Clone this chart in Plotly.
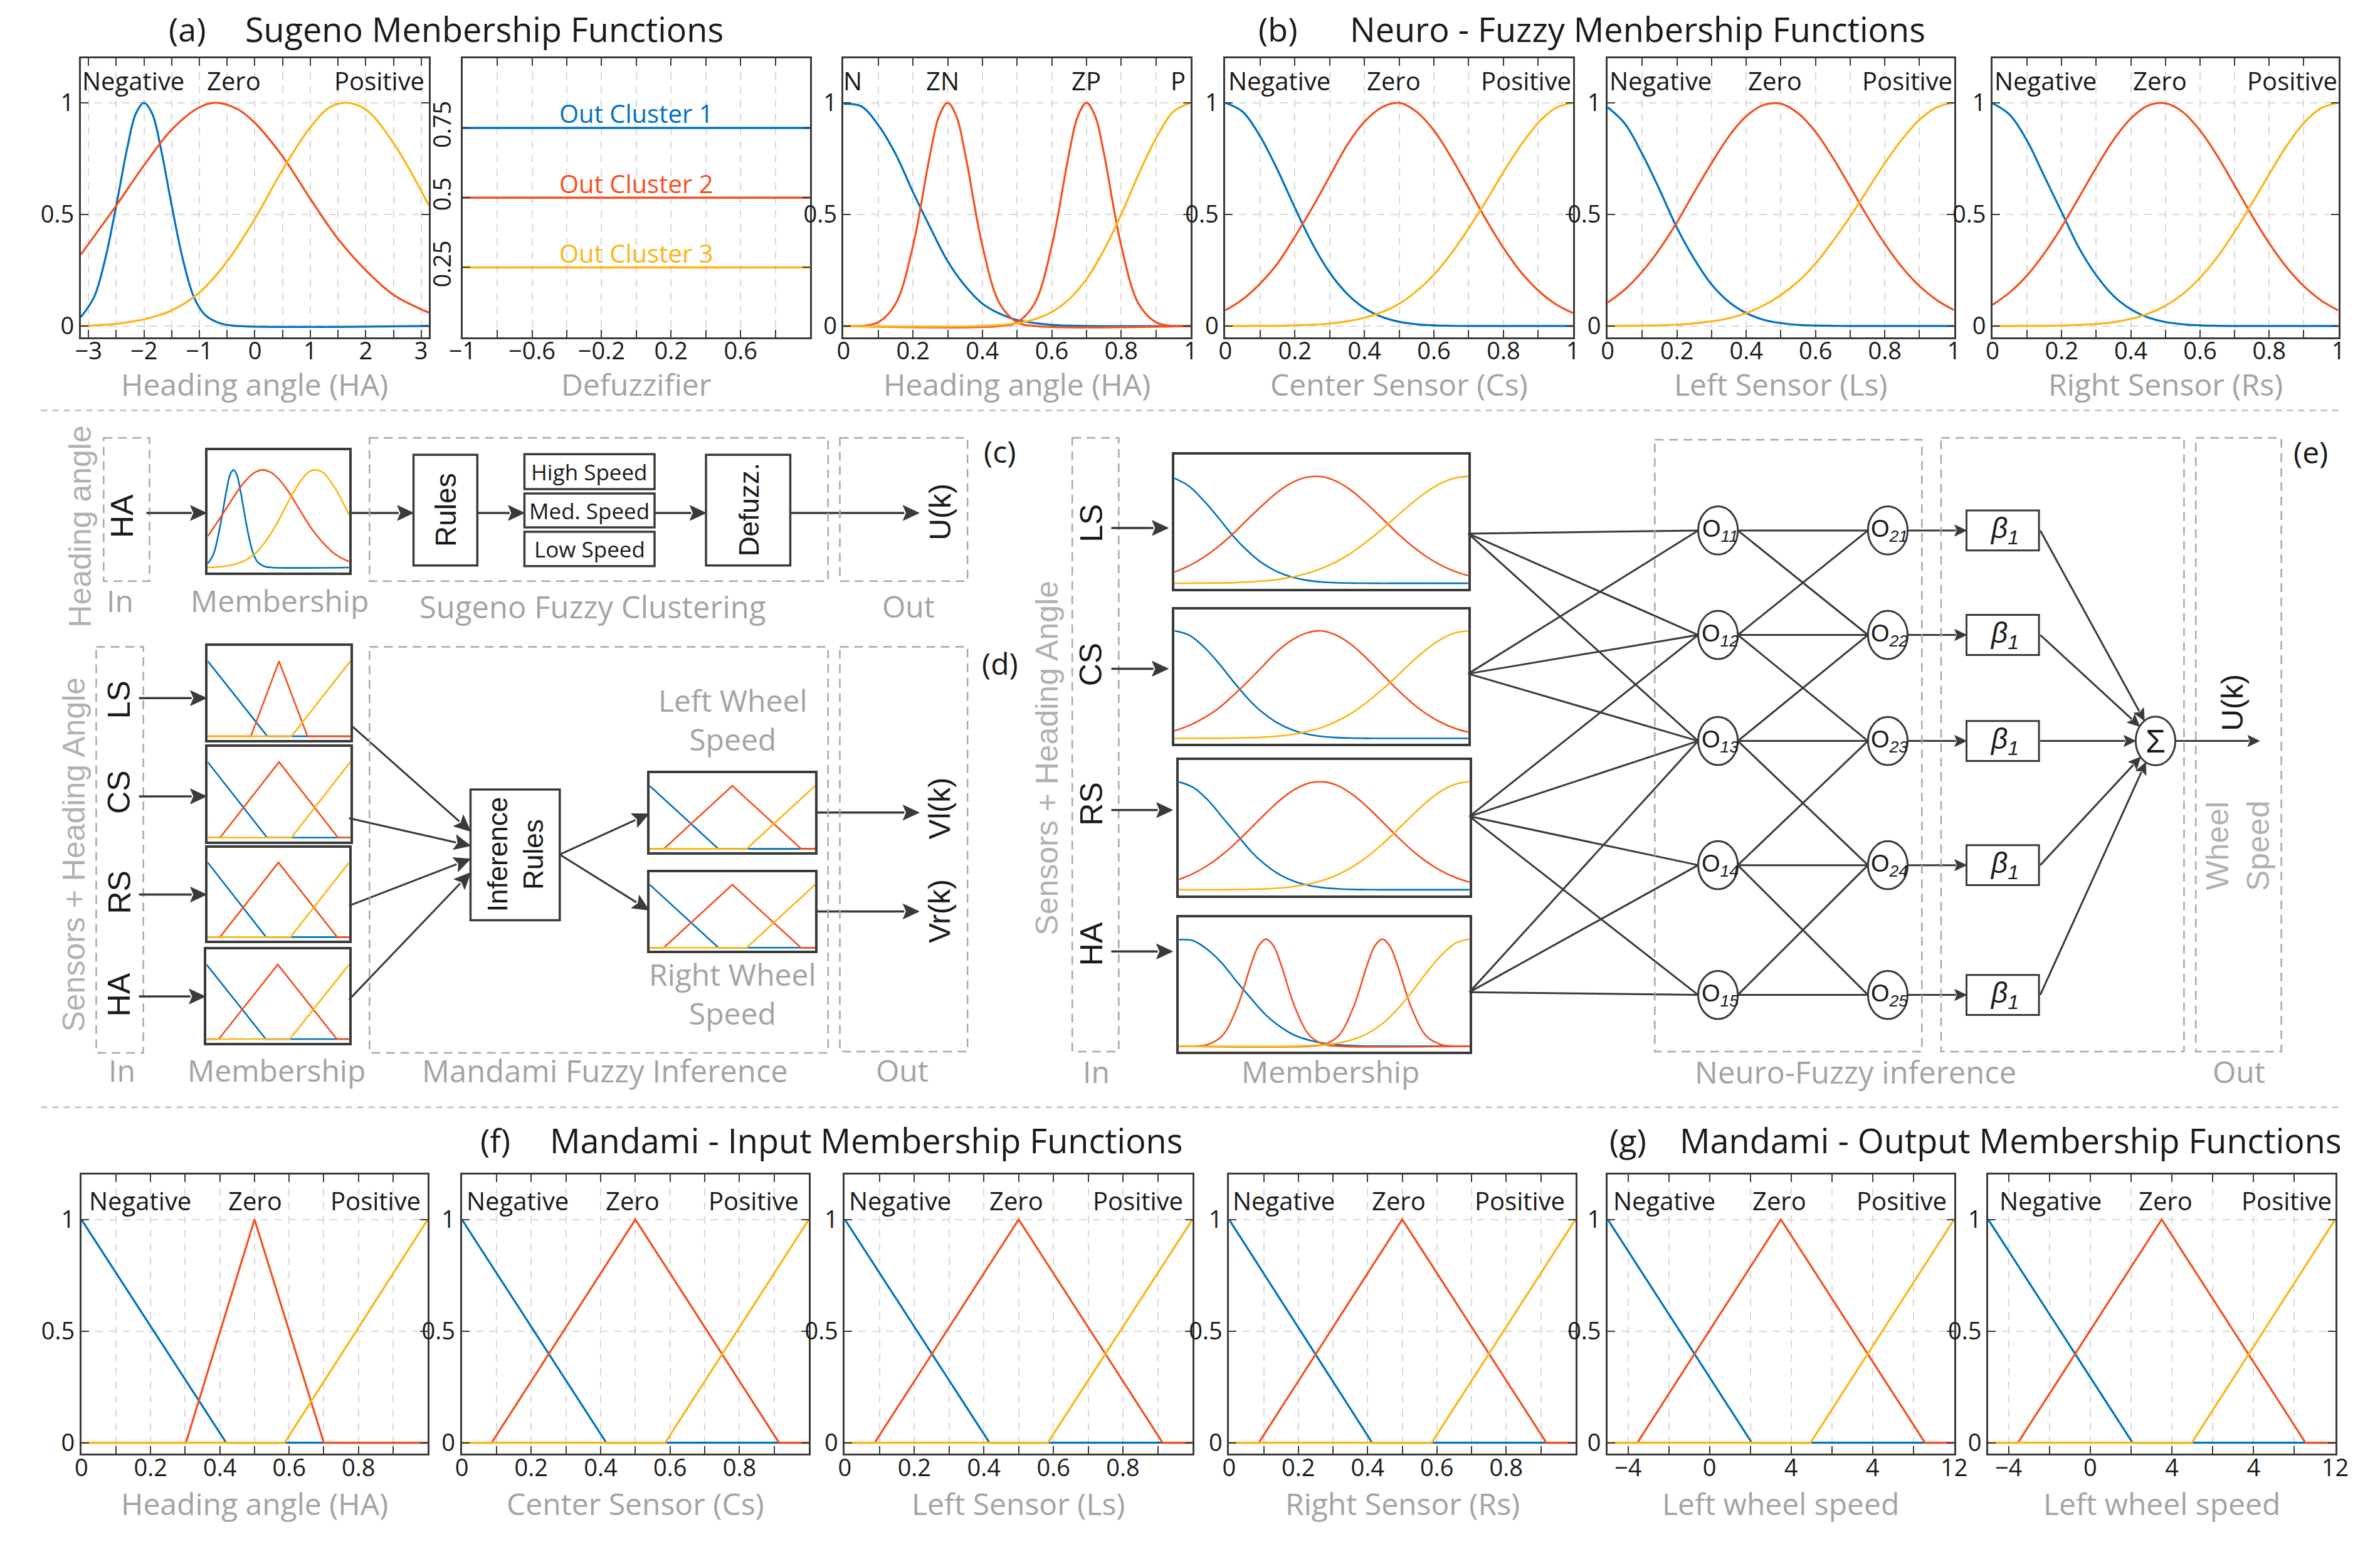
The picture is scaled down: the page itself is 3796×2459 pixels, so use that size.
import math
import plotly.graph_objects as go

W, H = 3796, 2459
BLUE, ORANGE, YELLOW = '#0072BD', '#F4511E', '#FDB515'
FRAME = '#3A3A3A'
INK = '#1A1A1A'
GRAY = '#A3A3A3'
PF = 'Open Sans, Noto Sans, sans-serif'
DF = 'Liberation Sans, Arial, sans-serif'

# ------------------------------------------------------------------ data
# (a) Sugeno input membership functions, heading angle in [-pi, pi]
SUG_NEG_X = [-3.14, -2.9, -2.7, -2.5, -2.3, -2.15, -2.0, -1.85, -1.7, -1.5, -1.3, -1.1, -0.9, -0.6, -0.3, 3.14]
SUG_NEG_Y = [0.04, 0.13, 0.30, 0.54, 0.80, 0.95, 1.0, 0.95, 0.80, 0.54, 0.30, 0.13, 0.05, 0.01, 0.0, 0.0]
SUG_ZERO_X = [-3.14, -2.5, -2.0, -1.5, -1.0, -0.7, -0.3, 0.0, 0.5, 1.0, 1.5, 2.0, 2.5, 3.14]
SUG_ZERO_Y = [0.32, 0.54, 0.72, 0.88, 0.98, 1.0, 0.97, 0.91, 0.76, 0.57, 0.39, 0.25, 0.14, 0.06]
SUG_POS_X = [-3.14, -2.5, -2.0, -1.5, -1.0, -0.5, 0.0, 0.5, 1.0, 1.35, 1.65, 2.0, 2.5, 3.14]
SUG_POS_Y = [0.0, 0.01, 0.03, 0.07, 0.15, 0.29, 0.48, 0.70, 0.89, 0.98, 1.0, 0.97, 0.82, 0.54]

# (a) Sugeno output clusters (defuzzifier)
DEFUZZ_X = [-1.0, 1.0]
CLUSTER_LEVELS = [0.75, 0.5, 0.25]
CLUSTER_NAMES = ['Out Cluster 1', 'Out Cluster 2', 'Out Cluster 3']

# (b) Neuro-fuzzy heading angle MFs (N, ZN, ZP, P)
NF_N_X = [0, 0.05, 0.1, 0.15, 0.2, 0.25, 0.3, 0.35, 0.4, 0.45, 0.5, 0.6, 0.7, 1.0]
NF_N_Y = [0.995, 0.985, 0.90, 0.77, 0.60, 0.44, 0.29, 0.18, 0.10, 0.055, 0.027, 0.005, 0.0, 0.0]
NF_ZN_X = [0, 0.05, 0.1, 0.15, 0.2, 0.25, 0.275, 0.3, 0.325, 0.35, 0.4, 0.45, 0.5, 0.55, 1.0]
NF_ZN_Y = [0.0, 0.0, 0.017, 0.10, 0.36, 0.775, 0.94, 1.0, 0.94, 0.775, 0.36, 0.10, 0.017, 0.0, 0.0]
NF_ZP_X = [0, 0.45, 0.5, 0.55, 0.6, 0.65, 0.675, 0.7, 0.725, 0.75, 0.8, 0.85, 0.9, 0.95, 1.0]
NF_ZP_Y = [0.0, 0.0, 0.017, 0.10, 0.36, 0.775, 0.94, 1.0, 0.94, 0.775, 0.36, 0.10, 0.017, 0.0, 0.0]
NF_P_X = [0, 0.4, 0.5, 0.55, 0.6, 0.65, 0.7, 0.75, 0.8, 0.85, 0.9, 0.95, 1.0]
NF_P_Y = [0.0, 0.0, 0.013, 0.03, 0.063, 0.12, 0.21, 0.34, 0.50, 0.68, 0.84, 0.96, 1.0]

# (b) Neuro-fuzzy sensor MFs, common sampling of the normalised sensor range
UNIT_X = [0, 0.05, 0.1, 0.15, 0.2, 0.25, 0.3, 0.35, 0.4, 0.45, 0.5,
          0.55, 0.6, 0.65, 0.7, 0.75, 0.8, 0.85, 0.9, 0.95, 1.0]
CS_NEG = [1.0, 0.96, 0.85, 0.70, 0.53, 0.37, 0.24, 0.145, 0.08, 0.041, 0.019,
          0.008, 0.003, 0.001, 0.0, 0.0, 0.0, 0.0, 0.0, 0.0, 0.0]
CS_ZERO = [0.07, 0.12, 0.19, 0.28, 0.40, 0.53, 0.67, 0.81, 0.915, 0.98, 1.0,
           0.96, 0.876, 0.755, 0.617, 0.477, 0.35, 0.242, 0.159, 0.098, 0.058]
CS_POS = [0.0, 0.0, 0.001, 0.001, 0.003, 0.006, 0.011, 0.021, 0.037, 0.062, 0.10,
          0.156, 0.23, 0.325, 0.438, 0.56, 0.69, 0.81, 0.91, 0.977, 1.0]
LS_NEG = [0.98, 0.906, 0.77, 0.61, 0.44, 0.30, 0.186, 0.108, 0.058, 0.028, 0.013,
          0.005, 0.002, 0.001, 0.0, 0.0, 0.0, 0.0, 0.0, 0.0, 0.0]
LS_ZERO = [0.105, 0.164, 0.244, 0.345, 0.465, 0.60, 0.73, 0.85, 0.94, 0.99, 0.996,
           0.953, 0.87, 0.754, 0.623, 0.49, 0.368, 0.263, 0.179, 0.116, 0.071]
LS_POS = [0.0, 0.001, 0.002, 0.003, 0.006, 0.012, 0.021, 0.035, 0.058, 0.092, 0.139,
          0.20, 0.28, 0.38, 0.49, 0.61, 0.73, 0.837, 0.924, 0.98, 1.0]
RS_NEG = [0.998, 0.946, 0.83, 0.67, 0.51, 0.35, 0.227, 0.135, 0.075, 0.038, 0.018,
          0.008, 0.003, 0.001, 0.0, 0.0, 0.0, 0.0, 0.0, 0.0, 0.0]
RS_ZERO = [0.095, 0.151, 0.227, 0.326, 0.444, 0.576, 0.71, 0.834, 0.93, 0.988, 0.998,
           0.959, 0.876, 0.762, 0.63, 0.496, 0.371, 0.264, 0.179, 0.115, 0.07]
RS_POS = [0.0, 0.0, 0.001, 0.001, 0.002, 0.005, 0.009, 0.017, 0.032, 0.055, 0.091,
          0.143, 0.216, 0.309, 0.422, 0.549, 0.68, 0.806, 0.909, 0.976, 1.0]

# (f) Mamdani input MFs (triangles)
F_HA_NEG_X, F_HA_NEG_Y = [0, 0.418, 1.0], [1, 0, 0]
F_HA_ZERO_X, F_HA_ZERO_Y = [0, 0.302, 0.5, 0.70, 1.0], [0, 0, 1, 0, 0]
F_HA_POS_X, F_HA_POS_Y = [0, 0.587, 1.0], [0, 0, 1]
F_CS_NEG_X, F_CS_NEG_Y = [0, 0.416, 1.0], [1, 0, 0]
F_CS_ZERO_X, F_CS_ZERO_Y = [0, 0.086, 0.5, 0.914, 1.0], [0, 0, 1, 0, 0]
F_CS_POS_X, F_CS_POS_Y = [0, 0.586, 1.0], [0, 0, 1]
F_LS_NEG_X, F_LS_NEG_Y = [0, 0.416, 1.0], [1, 0, 0]
F_LS_ZERO_X, F_LS_ZERO_Y = [0, 0.086, 0.5, 0.914, 1.0], [0, 0, 1, 0, 0]
F_LS_POS_X, F_LS_POS_Y = [0, 0.584, 1.0], [0, 0, 1]
F_RS_NEG_X, F_RS_NEG_Y = [0, 0.413, 1.0], [1, 0, 0]
F_RS_ZERO_X, F_RS_ZERO_Y = [0, 0.086, 0.5, 0.916, 1.0], [0, 0, 1, 0, 0]
F_RS_POS_X, F_RS_POS_Y = [0, 0.585, 1.0], [0, 0, 1]

# (g) Mamdani output MFs (wheel speed)
G1_NEG_X, G1_NEG_Y = [-5, 2.07, 12], [1, 0, 0]
G1_ZERO_X, G1_ZERO_Y = [-5, -3.54, 3.5, 10.57, 12], [0, 0, 1, 0, 0]
G1_POS_X, G1_POS_Y = [-5, 4.96, 12], [0, 0, 1]
G2_NEG_X, G2_NEG_Y = [-5, 2.07, 12], [1, 0, 0]
G2_ZERO_X, G2_ZERO_Y = [-5, -3.54, 3.5, 10.54, 12], [0, 0, 1, 0, 0]
G2_POS_X, G2_POS_Y = [-5, 4.98, 12], [0, 0, 1]

# tick labels (major = labelled, minor = unlabelled tick + grid)
UNIT_MAJOR_1 = [0, 0.2, 0.4, 0.6, 0.8, 1.0]
UNIT_TEXT_1 = ['0', '0.2', '0.4', '0.6', '0.8', '1']
UNIT_MAJOR_0 = [0, 0.2, 0.4, 0.6, 0.8]
UNIT_TEXT_0 = ['0', '0.2', '0.4', '0.6', '0.8']
UNIT_MINOR = [0.1, 0.3, 0.5, 0.7, 0.9, 1.0]
HA_MAJOR = [-3, -2, -1, 0, 1, 2, 3]
HA_TEXT = ['\u22123', '\u22122', '\u22121', '0', '1', '2', '3']
HA_MINOR = [-2.5, -1.5, -0.5, 0.5, 1.5, 2.5]
DEF_MAJOR = [-1, -0.6, -0.2, 0.2, 0.6]
DEF_TEXT = ['\u22121', '\u22120.6', '\u22120.2', '0.2', '0.6']
DEF_MINOR = [-0.8, -0.4, 0.0, 0.4, 0.8, 1.0]
WHEEL_MAJOR = [-4, 0, 4, 8, 12]
WHEEL_TEXT = ['\u22124', '0', '4', '4', '12']
WHEEL_MINOR = [-2, 2, 6, 10]
MF_NAMES = ['Negative', 'Zero', 'Positive']
NF_HA_NAMES = ['N', 'ZN', 'ZP', 'P']

# ------------------------------------------------------------------ helpers
fig = go.Figure()
layout = {}
annotations = []
shapes = []
counter = [1]


def new_id():
    counter[0] += 1
    return counter[0]


def dom(box):
    x0, y0, x1, y1 = box
    return [x0 / W, x1 / W], [1 - y1 / H, 1 - y0 / H]


GRID = dict(showgrid=True, gridcolor='#D9D9D9', griddash='12px,10px', gridwidth=2)
AX = dict(showline=True, mirror='ticks', linecolor=FRAME, linewidth=3,
          ticks='inside', ticklen=12, tickwidth=2, tickcolor=FRAME,
          zeroline=False, fixedrange=True,
          tickfont=dict(family=PF, size=38, color=INK), **GRID)


def main_axes(box, xr, xtv, xtt, xminor, yr=(-0.05, 1.2), ytv=(0, 0.5, 1), ytt=('0', '0.5', '1'), yangle=0):
    i = new_id()
    dx, dy = dom(box)
    minor = dict(tickvals=list(xminor), ticks='inside', ticklen=12, tickwidth=2, tickcolor=FRAME, **GRID)
    layout[f'xaxis{i}'] = dict(AX, domain=dx, range=list(xr), anchor=f'y{i}',
                               tickvals=list(xtv), ticktext=list(xtt), ticklabelstandoff=-13,
                               minor=minor)
    layout[f'yaxis{i}'] = dict(AX, domain=dy, range=list(yr), anchor=f'x{i}',
                               tickvals=list(ytv), ticktext=list(ytt), tickangle=yangle)
    return i


def mini_axes(box, xr, yr=(-0.05, 1.2)):
    i = new_id()
    dx, dy = dom(box)
    base = dict(showline=True, mirror=True, linecolor=FRAME, linewidth=3.5, ticks='',
                showticklabels=False, showgrid=False, zeroline=False, fixedrange=True)
    layout[f'xaxis{i}'] = dict(base, domain=dx, range=list(xr), anchor=f'y{i}')
    layout[f'yaxis{i}'] = dict(base, domain=dy, range=list(yr), anchor=f'x{i}')
    return i


def draw_set(i, curves, width=3.2):
    for xs, ys, color, spline in curves:
        fig.add_trace(go.Scatter(
            x=xs, y=ys, mode='lines',
            line=dict(color=color, width=width, shape='spline' if spline else 'linear', smoothing=1.0),
            xaxis=f'x{i}', yaxis=f'y{i}', showlegend=False, hoverinfo='skip'))


def text(x, y, s, size, color=INK, family=DF, angle=0, xref='x', yref='y'):
    annotations.append(dict(x=x, y=y, xref=xref, yref=yref, text=s, showarrow=False,
                            font=dict(family=family, size=size, color=color),
                            textangle=angle, xanchor='center', yanchor='middle'))


def seg(x0, y0, x1, y1, width=3, color=FRAME, dash=None):
    ln = dict(color=color, width=width)
    if dash:
        ln['dash'] = dash
    shapes.append(dict(type='line', xref='x', yref='y', x0=x0, y0=y0, x1=x1, y1=y1, line=ln))


def arrow(x0, y0, x1, y1, width=3.5, head=26, half=12):
    # shaft + filled triangular head (diagram decoration in pixel units)
    L = math.hypot(x1 - x0, y1 - y0)
    ux, uy = (x1 - x0) / L, (y1 - y0) / L
    bx, by = x1 - ux * head, y1 - uy * head
    seg(x0, y0, bx + ux * 2, by + uy * 2, width=width)
    px, py = -uy * half, ux * half
    nx, ny = x1 - ux * head * 0.8, y1 - uy * head * 0.8
    path = (f'M {x1:.1f},{y1:.1f} L {bx + px:.1f},{by + py:.1f} '
            f'L {nx:.1f},{ny:.1f} L {bx - px:.1f},{by - py:.1f} Z')
    shapes.append(dict(type='path', xref='x', yref='y', path=path,
                       fillcolor=FRAME, line=dict(color=FRAME, width=1)))


def rect(x0, y0, x1, y1, dashed=False, width=3.5):
    if dashed:
        ln = dict(color='#A8A8A8', width=2.5, dash='14px,9px')
    else:
        ln = dict(color=FRAME, width=width)
    shapes.append(dict(type='rect', xref='x', yref='y', x0=x0, y0=y0, x1=x1, y1=y1,
                       line=ln, fillcolor='rgba(0,0,0,0)'))


def ellipse(cx, cy, rx, ry):
    shapes.append(dict(type='circle', xref='x', yref='y', x0=cx - rx, y0=cy - ry, x1=cx + rx, y1=cy + ry,
                       line=dict(color=FRAME, width=3), fillcolor='white'))


def mf_labels(i, names, fracs, y=1.1):
    for n, f in zip(names, fracs):
        text(f, y, n, 40, family=PF, xref=f'x{i} domain', yref=f'y{i}')


# curve groups
SET_SUG = [(SUG_NEG_X, SUG_NEG_Y, BLUE, True), (SUG_ZERO_X, SUG_ZERO_Y, ORANGE, True),
           (SUG_POS_X, SUG_POS_Y, YELLOW, True)]
SET_NFHA = [(NF_N_X, NF_N_Y, BLUE, True), (NF_ZN_X, NF_ZN_Y, ORANGE, True),
            (NF_ZP_X, NF_ZP_Y, ORANGE, True), (NF_P_X, NF_P_Y, YELLOW, True)]
SET_CS = [(UNIT_X, CS_NEG, BLUE, True), (UNIT_X, CS_ZERO, ORANGE, True), (UNIT_X, CS_POS, YELLOW, True)]
SET_LS = [(UNIT_X, LS_NEG, BLUE, True), (UNIT_X, LS_ZERO, ORANGE, True), (UNIT_X, LS_POS, YELLOW, True)]
SET_RS = [(UNIT_X, RS_NEG, BLUE, True), (UNIT_X, RS_ZERO, ORANGE, True), (UNIT_X, RS_POS, YELLOW, True)]
SET_F_HA = [(F_HA_NEG_X, F_HA_NEG_Y, BLUE, False), (F_HA_ZERO_X, F_HA_ZERO_Y, ORANGE, False),
            (F_HA_POS_X, F_HA_POS_Y, YELLOW, False)]
SET_F_CS = [(F_CS_NEG_X, F_CS_NEG_Y, BLUE, False), (F_CS_ZERO_X, F_CS_ZERO_Y, ORANGE, False),
            (F_CS_POS_X, F_CS_POS_Y, YELLOW, False)]
SET_F_LS = [(F_LS_NEG_X, F_LS_NEG_Y, BLUE, False), (F_LS_ZERO_X, F_LS_ZERO_Y, ORANGE, False),
            (F_LS_POS_X, F_LS_POS_Y, YELLOW, False)]
SET_F_RS = [(F_RS_NEG_X, F_RS_NEG_Y, BLUE, False), (F_RS_ZERO_X, F_RS_ZERO_Y, ORANGE, False),
            (F_RS_POS_X, F_RS_POS_Y, YELLOW, False)]
SET_G1 = [(G1_NEG_X, G1_NEG_Y, BLUE, False), (G1_ZERO_X, G1_ZERO_Y, ORANGE, False),
          (G1_POS_X, G1_POS_Y, YELLOW, False)]
SET_G2 = [(G2_NEG_X, G2_NEG_Y, BLUE, False), (G2_ZERO_X, G2_ZERO_Y, ORANGE, False),
          (G2_POS_X, G2_POS_Y, YELLOW, False)]

# overlay axis in pixel units for the diagram
layout['xaxis'] = dict(domain=[0, 1], range=[0, W], visible=False, fixedrange=True)
layout['yaxis'] = dict(domain=[0, 1], range=[H, 0], visible=False, fixedrange=True)

# ------------------------------------------------------------------ row 1 (a), (b)
R1Y0, R1Y1 = 93, 539
r1 = [(108, 670), (724, 1285), (1339, 1899), (1955, 2516), (2572, 3131), (3193, 3751)]

i = main_axes((r1[0][0], R1Y0, r1[0][1], R1Y1), (-3.1416, 3.1416), HA_MAJOR, HA_TEXT, HA_MINOR)
draw_set(i, SET_SUG)
mf_labels(i, MF_NAMES, [0.151, 0.44, 0.857])

i = main_axes((r1[1][0], R1Y0, r1[1][1], R1Y1), (-1, 1), DEF_MAJOR, DEF_TEXT, DEF_MINOR,
              yr=(0, 1.0), ytv=(0.25, 0.5, 0.75), ytt=('0.25', '0.5', '0.75'), yangle=-90)
for lvl, name, col in zip(CLUSTER_LEVELS, CLUSTER_NAMES, [BLUE, ORANGE, YELLOW]):
    fig.add_trace(go.Scatter(x=DEFUZZ_X, y=[lvl, lvl], mode='lines', line=dict(color=col, width=3.5),
                             xaxis=f'x{i}', yaxis=f'y{i}', showlegend=False, hoverinfo='skip'))
    text(0.0, lvl + 0.052, name, 40, color=col, family=PF, xref=f'x{i}', yref=f'y{i}')

i = main_axes((r1[2][0], R1Y0, r1[2][1], R1Y1), (0, 1), UNIT_MAJOR_1, UNIT_TEXT_1, UNIT_MINOR)
draw_set(i, SET_NFHA)
mf_labels(i, NF_HA_NAMES, [0.027, 0.286, 0.70, 0.963])

for k, (st, fr) in enumerate([(SET_CS, [0.155, 0.484, 0.865]), (SET_LS, [0.152, 0.482, 0.865]),
                              (SET_RS, [0.154, 0.484, 0.867])]):
    x0, x1 = r1[3 + k]
    i = main_axes((x0, R1Y0, x1, R1Y1), (0, 1), UNIT_MAJOR_1, UNIT_TEXT_1, UNIT_MINOR)
    draw_set(i, st)
    mf_labels(i, MF_NAMES, fr)

R1_TITLES = ['Heading angle (HA)', 'Defuzzifier', 'Heading angle (HA)',
             'Center Sensor (Cs)', 'Left Sensor (Ls)', 'Right Sensor (Rs)']
for (x0, x1), t in zip(r1, R1_TITLES):
    text((x0 + x1) / 2, 614, t, 48, color=GRAY, family=PF)

text(280, 46, '(a)', 52, family=PF)
text(759, 46, 'Sugeno Menbership Functions', 54, family=PF)
text(2040, 46, '(b)', 52, family=PF)
text(2620, 46, 'Neuro - Fuzzy Menbership Functions', 54, family=PF)

# ------------------------------------------------------------------ row 3 (f), (g)
R3Y0, R3Y1 = 1878, 2324
r3 = [(109, 668), (723, 1283), (1341, 1902), (1961, 2520), (2572, 3131), (3186, 3746)]
r3_sets = [SET_F_HA, SET_F_CS, SET_F_LS, SET_F_RS]
r3_fr = [[0.169, 0.502, 0.85], [0.16, 0.493, 0.84], [0.158, 0.493, 0.843], [0.157, 0.49, 0.84]]
for k in range(4):
    x0, x1 = r3[k]
    i = main_axes((x0, R3Y0, x1, R3Y1), (0, 1), UNIT_MAJOR_0, UNIT_TEXT_0, UNIT_MINOR)
    draw_set(i, r3_sets[k])
    mf_labels(i, MF_NAMES, r3_fr[k], y=1.085)
for k, (st, fr) in enumerate([(SET_G1, [0.163, 0.496, 0.848]), (SET_G2, [0.18, 0.512, 0.86])]):
    x0, x1 = r3[4 + k]
    i = main_axes((x0, R3Y0, x1, R3Y1), (-5, 12), WHEEL_MAJOR, WHEEL_TEXT, WHEEL_MINOR)
    draw_set(i, st)
    mf_labels(i, MF_NAMES, fr, y=1.085)

R3_TITLES = ['Heading angle (HA)', 'Center Sensor (Cs)', 'Left Sensor (Ls)',
             'Right Sensor (Rs)', 'Left wheel speed', 'Left wheel speed']
for (x0, x1), t in zip(r3, R3_TITLES):
    text((x0 + x1) / 2, 2403, t, 48, color=GRAY, family=PF)

text(777, 1822, '(f)', 52, family=PF)
text(1375, 1822, 'Mandami - Input Membership Functions', 54, family=PF)
text(2605, 1822, '(g)', 52, family=PF)
text(3222, 1822, 'Mandami - Output Membership Functions', 54, family=PF)

# separators
seg(44, 656, 3752, 656, width=3, color='#C8C8C8', dash='10px,8px')
seg(44, 1770, 3756, 1770, width=3, color='#C8C8C8', dash='10px,8px')

# ------------------------------------------------------------------ (c) Sugeno diagram
text(107, 841, 'Heading angle', 50, color='#B0B0B0', angle=-90)
rect(145, 700, 219, 929, dashed=True)
text(175, 825, 'HA', 50, angle=-90)
arrow(214, 820, 311, 820)
i = mini_axes((313, 720, 541, 915), (-3.1416, 3.1416))
draw_set(i, SET_SUG, width=2.6)
arrow(541, 820, 645, 820)
rect(645, 727, 748, 904)
text(697, 815, 'Rules', 46, angle=-90)
arrow(748, 820, 824, 820)
for (ya, yb), s in zip([(726, 782), (789, 843), (850, 905)], ['High Speed', 'Med. Speed', 'Low Speed']):
    rect(824, ya, 1034, yb)
    text(929, (ya + yb) / 2, s, 35, family=PF)
arrow(1034, 820, 1117, 820)
rect(1117, 727, 1253, 904)
text(1186, 815, 'Defuzz.', 44, angle=-90)
arrow(1253, 820, 1461, 820)
rect(574, 700, 1314, 929, dashed=True)
rect(1333, 700, 1539, 929, dashed=True)
text(1494, 818, 'U(k)', 48, angle=-90)
text(1591, 721, '(c)', 48, family=PF)
text(171, 960, 'In', 48, color=GRAY, family=PF)
text(429, 960, 'Membership', 48, color=GRAY, family=PF)
text(934, 969, 'Sugeno Fuzzy Clustering', 49, color=GRAY, family=PF)
text(1444, 969, 'Out', 48, color=GRAY, family=PF)

# ------------------------------------------------------------------ (d) Mamdani diagram
text(97, 1366, 'Sensors + Heading Angle', 50, color='#B0B0B0', angle=-90)
rect(133, 1034, 209, 1683, dashed=True)
d_rows = [('LS', 1119, 1116, (313, 1033, 543, 1183), SET_F_HA),
          ('CS', 1267, 1273, (313, 1194, 543, 1345), SET_F_CS),
          ('RS', 1427, 1430, (313, 1355, 541, 1504), SET_F_RS),
          ('HA', 1590, 1593, (311, 1518, 541, 1667), SET_F_LS)]
for name, ty, ay, box, st in d_rows:
    text(170, ty, name, 50, angle=-90)
    arrow(202, ay, box[0] - 2, ay)
    i = mini_axes(box, (0, 1))
    draw_set(i, st, width=2.6)
rect(737, 1262, 881, 1471)
text(809, 1366, 'Inference<br>Rules', 44, angle=-90)
for (sx, sy), (tx, ty) in zip([(546, 1161), (541, 1308), (541, 1448), (541, 1598)],
                              [(737, 1329), (737, 1352), (737, 1373), (737, 1395)]):
    arrow(sx, sy, tx, ty, width=3)
i = mini_axes((1026, 1236, 1293, 1362), (-5, 12))
draw_set(i, SET_G1, width=2.6)
i = mini_axes((1026, 1394, 1293, 1520), (-5, 12))
draw_set(i, SET_G2, width=2.6)
arrow(881, 1366, 1025, 1301, width=3)
arrow(881, 1366, 1025, 1455, width=3)
text(1160, 1150, 'Left Wheel<br>Speed', 48, color=GRAY, family=PF)
text(1160, 1588, 'Right Wheel<br>Speed', 48, color=GRAY, family=PF)
arrow(1293, 1299, 1461, 1299)
arrow(1293, 1457, 1461, 1457)
rect(574, 1034, 1314, 1683, dashed=True)
rect(1333, 1034, 1539, 1681, dashed=True)
text(1494, 1292, 'Vl(k)', 48, angle=-90)
text(1494, 1457, 'Vr(k)', 48, angle=-90)
text(1591, 1060, '(d)', 48, family=PF)
text(175, 1711, 'In', 48, color=GRAY, family=PF)
text(424, 1711, 'Membership', 48, color=GRAY, family=PF)
text(954, 1711, 'Mandami Fuzzy Inference', 49, color=GRAY, family=PF)
text(1434, 1711, 'Out', 48, color=GRAY, family=PF)

# ------------------------------------------------------------------ (e) Neuro-fuzzy diagram
text(1667, 1212, 'Sensors + Heading Angle', 50, color='#B0B0B0', angle=-90)
rect(1708, 700, 1783, 1681, dashed=True)
e_rows = [('LS', 836, 844, (1873, 727, 2347, 941), SET_LS, 853),
          ('CS', 1062, 1069, (1873, 974, 2347, 1189), SET_CS, 1077),
          ('RS', 1285, 1295, (1880, 1215, 2349, 1431), SET_RS, 1305),
          ('HA', 1509, 1521, (1880, 1467, 2349, 1681), SET_NFHA, 1586)]
NODE_Y = [848, 1015, 1184.5, 1383, 1590.5]
L1X, L2X, NRX, NRY = 2750, 3024, 32, 38.5
CONNECT = [[0, 1, 2], [0, 1, 2], [1, 2, 3, 4], [2, 3, 4]]
for (name, ty, ay, box, st, sy), targets in zip(e_rows, CONNECT):
    text(1739, ty, name, 50, angle=-90)
    arrow(1771, ay, box[0] - 10, ay)
    i = mini_axes(box, (0, 1))
    draw_set(i, st, width=2.6)
    for t in targets:
        seg(box[2], sy, L1X - NRX, NODE_Y[t])
for a in range(5):
    for b in range(5):
        if abs(a - b) <= 1:
            seg(L1X + NRX, NODE_Y[a], L2X - NRX, NODE_Y[b])
for k, y in enumerate(NODE_Y):
    ellipse(L1X, y, NRX, NRY)
    ellipse(L2X, y, NRX, NRY)
    text(L1X + 3, y, f'O<sub><i>1{k + 1}</i></sub>', 38)
    text(L2X + 3, y, f'O<sub><i>2{k + 1}</i></sub>', 38)
    arrow(L2X + NRX, y, 3151, y, width=3, head=19, half=9)
    rect(3151, y - 32, 3268, y + 32, width=3)
    text(3212, y, '<i>\u03b2<sub>1</sub></i>', 46)
SCX, SCY, SRX, SRY = 3456, 1184.5, 32, 39
for y in NODE_Y:
    dx, dy = 3270 - SCX, y - SCY
    t = 1 / math.sqrt((dx / SRX) ** 2 + (dy / SRY) ** 2)
    arrow(3270, y, SCX + dx * t, SCY + dy * t, width=3, head=19, half=9)
ellipse(SCX, SCY, SRX, SRY)
text(SCX, SCY, '\u03a3', 52)
arrow(SCX + SRX, SCY, 3624, SCY, width=3, head=19, half=9)
rect(2648, 703, 3079, 1681, dashed=True)
rect(3110, 700, 3502, 1681, dashed=True)
rect(3521, 700, 3659, 1681, dashed=True)
text(3580, 1123, 'U(k)', 48, angle=-90)
text(3589, 1352, 'Wheel<br>Speed', 50, color='#B0B0B0', angle=-90)
text(3706, 722, '(e)', 48, family=PF)
text(1747, 1713, 'In', 48, color=GRAY, family=PF)
text(2125, 1713, 'Membership', 48, color=GRAY, family=PF)
text(2972, 1713, 'Neuro-Fuzzy inference', 49, color=GRAY, family=PF)
text(3591, 1713, 'Out', 48, color=GRAY, family=PF)

fig.update_layout(width=W, height=H, margin=dict(l=0, r=0, t=0, b=0),
                  paper_bgcolor='white', plot_bgcolor='rgba(0,0,0,0)', showlegend=False,
                  annotations=annotations, shapes=shapes, **layout)
fig.write_html('out.html', config={'displayModeBar': False},
               post_script="document.body.style.margin='0px';document.body.style.overflow='hidden';")
